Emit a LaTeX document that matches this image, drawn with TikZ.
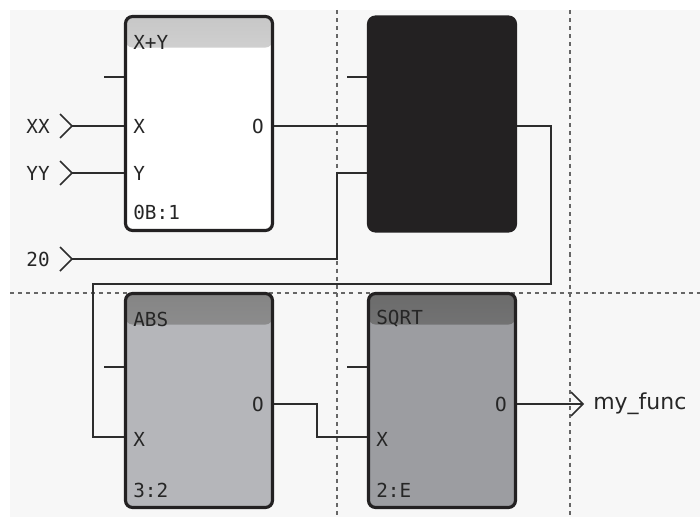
\documentclass[tikz,border=0pt]{standalone}
\usepackage{fontspec}
\setmonofont{DejaVu Sans Mono}
\setsansfont{DejaVu Sans}
\usetikzlibrary{positioning,calc}
\definecolor{PanelGray}{RGB}{247,247,247}
\definecolor{BlockDark}{RGB}{35,33,34}
\definecolor{AbsGray}{RGB}{181,182,186}
\definecolor{SqrtGray}{RGB}{156,157,161}
\definecolor{WireGray}{RGB}{45,45,45}
\tikzset{
	fblock/.style={draw=BlockDark,line width=1.8pt,rounded corners=4pt,inner sep=0pt,
		minimum width=2.94cm,minimum height=4.28cm},
	hdr/.style 2 args={path picture={\shade[top color=#1,bottom color=#2]
		(path picture bounding box.north west) rectangle ([yshift=-0.62cm]path picture bounding box.north east);}},
	wire/.style={draw=WireGray,line width=0.85pt},
	gridline/.style={draw=black!60,line width=0.9pt,dash pattern=on 2.3pt off 2.3pt},
	pinlab/.style={font=\ttfamily\fontsize{11}{13}\selectfont,text=black!85,inner sep=0pt},
}

\begin{document}
\begin{tikzpicture}[x=0.02cm,y=-0.02cm]
	\useasboundingbox (0,0) rectangle (700,517);
	\fill[PanelGray] (10,10) rectangle (700,517);
	% grid
	\draw[gridline] (337,10) -- (337,517);
	\draw[gridline] (570,10) -- (570,517);
	\draw[gridline] (10,293) -- (700,293);

	% blocks
	\node[fblock,fill=white,hdr={black!22}{white}] (add) at (199,123.5) {};
	\node[fblock,fill=BlockDark] (hid) at (442,124) {};
	\node[fblock,fill=AbsGray,hdr={black!48}{AbsGray}] (abs) at (199,400.5) {};
	\node[fblock,fill=SqrtGray,hdr={black!58}{SqrtGray}] (sqrt) at (442,400.5) {};

	% block texts
	\node[pinlab,anchor=west] (add-t) at (133,42) {X+Y};
	\node[pinlab,anchor=west] (add-x) at (133,126) {X};
	\node[pinlab,anchor=west] (add-y) at (133,173) {Y};
	\node[pinlab,anchor=east] (add-o) at (264,126) {O};
	\node[pinlab,anchor=west] (add-id) at (133,212) {0B:1};
	\node[pinlab,anchor=west] (abs-t) at (133,319) {ABS};
	\node[pinlab,anchor=west] (abs-x) at (133,439) {X};
	\node[pinlab,anchor=east] (abs-o) at (264,404) {O};
	\node[pinlab,anchor=west] (abs-id) at (133,490) {3:2};
	\node[pinlab,anchor=west] (sqrt-t) at (376,319) {SQRT};
	\node[pinlab,anchor=west] (sqrt-x) at (376,439) {X};
	\node[pinlab,anchor=east] (sqrt-o) at (507,404) {O};
	\node[pinlab,anchor=west] (sqrt-id) at (376,490) {2:E};

	% inputs
	\foreach \n/\txt/\y in {xx/XX/126,yy/YY/173,k20/20/259}{
		\coordinate (\n-c) at (72,\y);
		\node[pinlab,anchor=east] (\n) at (50,\y) {\txt};
		\draw[wire] ($(\n-c)+(-12,-12)$) -- (\n-c) -- ($(\n-c)+(-12,12)$);
	}
	\draw[wire] (xx-c) -- (xx-c -| add.west);
	\draw[wire] (yy-c) -- (yy-c -| add.west);
	\coordinate (j20) at (337,173);
	\draw[wire] (k20-c) -| (j20) -- (j20 -| hid.west);

	% unused top pins
	\foreach \b/\x/\y in {add/104/77,hid/347/77,abs/104/367,sqrt/347/367}{
		\coordinate (\b-n) at (\x,\y);
		\draw[wire] (\b-n) -- (\b-n -| \b.west);
	}

	% connections
	\draw[wire] (add.east |- xx-c) -- (hid.west |- xx-c);
	\coordinate (h1) at (551,126);
	\coordinate (h2) at (93,284);
	\coordinate (h3) at (93,437);
	\draw[wire] (hid.east |- h1) -- (h1) |- (h2) -- (h3) -- (h3 -| abs.west);
	\coordinate (a1) at (317,404);
	\coordinate (a2) at (317,437);
	\draw[wire] (abs.east |- a1) -- (a1) -- (a2) -- (a2 -| sqrt.west);

	% output
	\coordinate (out-c) at (583,404);
	\draw[wire] (sqrt.east |- out-c) -- (out-c);
	\draw[wire] ($(out-c)+(-12,-12)$) -- (out-c) -- ($(out-c)+(-12,12)$);
	\node[font=\sffamily\fontsize{12.5}{14}\selectfont,text=black!85,anchor=west,inner sep=0pt] (out) at (593,404) {my\_func};
\end{tikzpicture}
\end{document}
